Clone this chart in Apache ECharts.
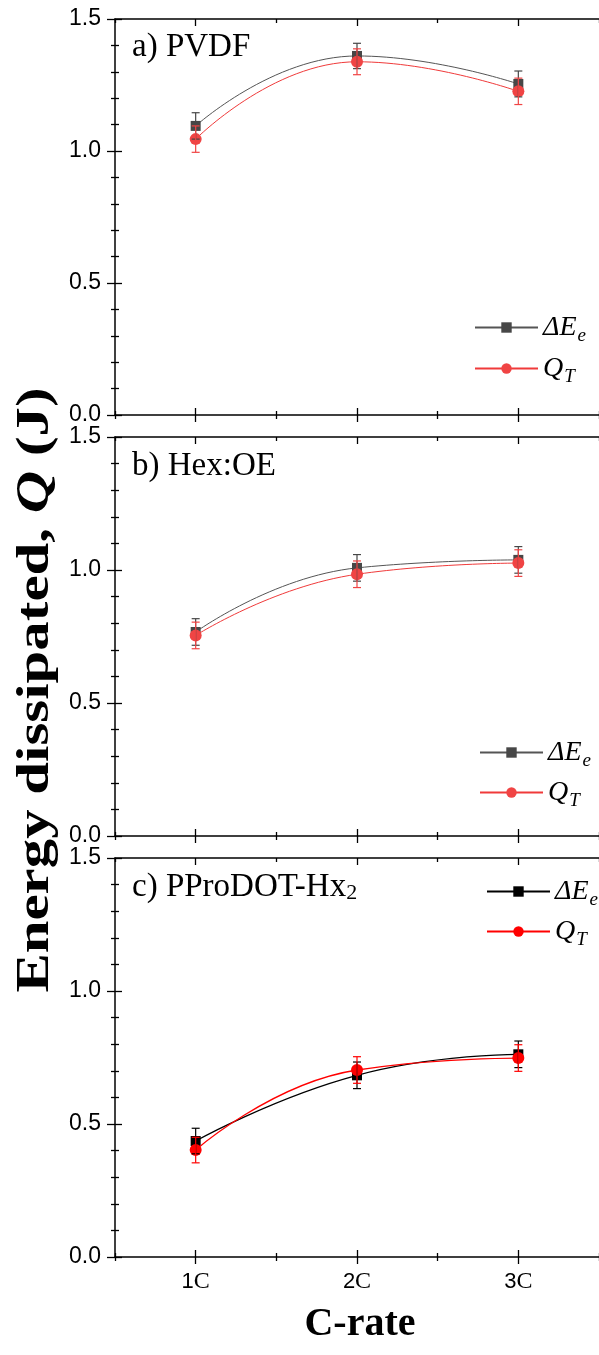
<!DOCTYPE html>
<html><head><meta charset="utf-8">
<script src="https://cdn.jsdelivr.net/npm/echarts@6/dist/echarts.min.js"></script>
<style>html,body{margin:0;padding:0;background:#fff}#c{width:599px;height:1355px}</style>
</head><body><div id="c"></div>
<script>
// ---------- data ----------
const categories = ['1C', '2C', '3C'];
const yTickValues = [0, 0.5, 1.0, 1.5];
const panelTitles = ['a) PVDF', 'b) Hex:OE', 'c) PProDOT-Hx'];

const pvdfDeltaE    = [1.095, 1.360, 1.254];
const pvdfDeltaEErr = [0.050, 0.048, 0.049];
const pvdfQT        = [1.045, 1.338, 1.226];
const pvdfQTErr     = [0.050, 0.049, 0.050];

const hexDeltaE     = [0.767, 1.008, 1.038];
const hexDeltaEErr  = [0.050, 0.050, 0.050];
const hexQT         = [0.754, 0.984, 1.026];
const hexQTErr      = [0.050, 0.050, 0.050];

const pdotDeltaE    = [0.436, 0.683, 0.762];
const pdotDeltaEErr = [0.048, 0.050, 0.050];
const pdotQT        = [0.402, 0.703, 0.748];
const pdotQTErr     = [0.048, 0.050, 0.050];

// ---------- layout / style ----------
const panels = [
  {de: pvdfDeltaE, deErr: pvdfDeltaEErr, qt: pvdfQT, qtErr: pvdfQTErr, top: 19, height: 396,
   deColor: '#474747', deLine: '#555555', qtColor: '#f04444', qtLine: '#f03a3a', lw: 1,
   titleTop: 24, legendTops: [305, 346], legendLeft: 469},
  {de: hexDeltaE, deErr: hexDeltaEErr, qt: hexQT, qtErr: hexQTErr, top: 437, height: 399,
   deColor: '#474747', deLine: '#555555', qtColor: '#f04444', qtLine: '#f03a3a', lw: 1,
   titleTop: 443, legendTops: [730, 770], legendLeft: 474},
  {de: pdotDeltaE, deErr: pdotDeltaEErr, qt: pdotQT, qtErr: pdotQTErr, top: 858, height: 399,
   deColor: '#000000', deLine: '#000000', qtColor: '#ff0000', qtLine: '#ff0000', lw: 1.3,
   titleTop: 864, legendTops: [869, 909], legendLeft: 481}
];

const AX = '#000';
const grids = [], xAxes = [], yAxes = [], series = [], legends = [], titles = [];

function errSeries(name, xi, yi, vals, errs, color) {
  return {
    type: 'custom', name: name, xAxisIndex: xi, yAxisIndex: yi, z: 5, silent: true,
    data: vals.map((v, i) => [i, v, errs[i]]),
    renderItem: function (params, api) {
      const x = api.value(0), v = api.value(1), e = api.value(2);
      const lo = api.coord([x, v - e]), hi = api.coord([x, v + e]);
      const w = 4;
      const st = {stroke: color, lineWidth: 1.2};
      return {type: 'group', children: [
        {type: 'line', shape: {x1: lo[0], y1: lo[1], x2: hi[0], y2: hi[1]}, style: st},
        {type: 'line', shape: {x1: lo[0] - w, y1: lo[1], x2: lo[0] + w, y2: lo[1]}, style: st},
        {type: 'line', shape: {x1: hi[0] - w, y1: hi[1], x2: hi[0] + w, y2: hi[1]}, style: st}
      ]};
    }
  };
}

const legendRich = {
  i: {fontFamily: 'Liberation Serif', fontStyle: 'italic', fontSize: 28, color: '#000', lineHeight: 30},
  s: {fontFamily: 'Liberation Serif', fontStyle: 'italic', fontSize: 19, color: '#000', lineHeight: 30, padding: [16, 0, 0, 1]}
};

panels.forEach((p, k) => {
  grids.push({left: 115, top: p.top, width: 490, height: p.height});
  const xb = k * 6;
  const base = {type: 'category', data: categories, gridIndex: k, boundaryGap: true,
    splitLine: {show: false}, axisLabel: {show: false}};
  const tickStyle = {color: AX, width: 1.3};
  xAxes.push(Object.assign({}, base, {position: 'bottom',
    axisLine: {show: true, onZero: false, lineStyle: {color: AX, width: 1.5}},
    axisTick: {show: true, alignWithLabel: true, length: 7, lineStyle: tickStyle},
    axisLabel: {show: k === 2, margin: 13,
      formatter: v => '{n|' + v.slice(0, -1) + '}{c|' + v.slice(-1) + '}',
      rich: {n: {fontFamily: 'Liberation Sans', fontSize: 22, color: '#000'},
             c: {fontFamily: 'Liberation Serif', fontSize: 24, color: '#000'}}}}));
  xAxes.push(Object.assign({}, base, {position: 'bottom', axisLine: {show: false, onZero: false},
    axisTick: {show: true, inside: true, alignWithLabel: true, length: 7, lineStyle: tickStyle}}));
  xAxes.push(Object.assign({}, base, {position: 'bottom', axisLine: {show: false, onZero: false},
    axisTick: {show: true, alignWithLabel: false, length: 4, lineStyle: tickStyle}}));
  xAxes.push(Object.assign({}, base, {position: 'bottom', axisLine: {show: false, onZero: false},
    axisTick: {show: true, inside: true, alignWithLabel: false, length: 4, lineStyle: tickStyle}}));
  xAxes.push(Object.assign({}, base, {position: 'top',
    axisLine: {show: true, onZero: false, lineStyle: {color: AX, width: 1.5}},
    axisTick: {show: true, inside: true, alignWithLabel: true, length: 7, lineStyle: tickStyle}}));
  xAxes.push(Object.assign({}, base, {position: 'top', axisLine: {show: false, onZero: false},
    axisTick: {show: true, inside: true, alignWithLabel: false, length: 4, lineStyle: tickStyle}}));

  const yb = k * 2;
  const ybase = {type: 'value', gridIndex: k, position: 'left',
    min: yTickValues[0], max: yTickValues[yTickValues.length - 1], interval: 0.5,
    splitLine: {show: false}, minorSplitLine: {show: false}};
  yAxes.push(Object.assign({}, ybase, {
    axisLine: {show: true, onZero: false, lineStyle: {color: AX, width: 1.5}},
    axisTick: {show: true, length: 8, lineStyle: tickStyle},
    minorTick: {show: true, splitNumber: 5, length: 4, lineStyle: tickStyle},
    axisLabel: {show: true, margin: 14, fontFamily: 'Liberation Sans', fontSize: 23, color: '#000',
      formatter: v => v.toFixed(1)}}));
  yAxes.push(Object.assign({}, ybase, {
    axisLine: {show: false},
    axisTick: {show: true, inside: true, length: 7, lineStyle: tickStyle},
    minorTick: {show: true, splitNumber: 5, length: 4, lineStyle: tickStyle},
    axisLabel: {show: false}}));

  const deName = 'de' + k, qtName = 'qt' + k;
  series.push({type: 'line', name: deName, xAxisIndex: xb, yAxisIndex: yb, data: p.de,
    smooth: true, symbol: 'rect', symbolSize: 10, z: 3,
    lineStyle: {color: p.deLine, width: p.lw}, itemStyle: {color: p.deColor}});
  series.push({type: 'line', name: qtName, xAxisIndex: xb, yAxisIndex: yb, data: p.qt,
    smooth: true, symbol: 'circle', symbolSize: 12, z: 4,
    lineStyle: {color: p.qtLine, width: p.lw}, itemStyle: {color: p.qtColor}});
  series.push(errSeries('dee' + k, xb, yb, p.de, p.deErr, p.deColor));
  series.push(errSeries('qte' + k, xb, yb, p.qt, p.qtErr, p.qtColor));

  [deName, qtName].forEach((nm, j) => {
    legends.push({orient: 'vertical', left: p.legendLeft, top: p.legendTops[j], itemWidth: 63, itemHeight: 13,
      selectedMode: false, data: [nm],
      formatter: n => n.startsWith('de') ? '{i|ΔE}{s|e}' : '{i|Q}{s|T}',
      textStyle: {rich: legendRich}});
  });

  const t = panelTitles[k];
  titles.push({left: 127, top: p.titleTop, text: k === 2 ? '{t|' + t + '}{s|2}' : '{t|' + t + '}',
    textStyle: {fontWeight: 'normal', rich: {
      t: {fontFamily: 'Liberation Serif', fontWeight: 'normal', fontSize: 33, color: '#000', lineHeight: 36},
      s: {fontFamily: 'Liberation Serif', fontWeight: 'normal', fontSize: 22, color: '#000', lineHeight: 36, padding: [12, 0, 0, 0]}}}});
});

const chart = echarts.init(document.getElementById('c'), null, {renderer: 'canvas'});
chart.setOption({
  animation: false, backgroundColor: '#fff',
  title: titles, legend: legends, grid: grids, xAxis: xAxes, yAxis: yAxes, series: series,
  graphic: [
    {type: 'text', x: 36, y: 690, rotation: Math.PI / 2, scaleX: 1.28,
     style: {text: '{b|Energy dissipated, }{q|Q}{b| (J)}', align: 'center', verticalAlign: 'middle',
       rich: {b: {fontFamily: 'Liberation Serif', fontWeight: 'bold', fontSize: 46, fill: '#000'},
              q: {fontFamily: 'Liberation Serif', fontWeight: 'bold', fontStyle: 'italic', fontSize: 46, fill: '#000'}}}},
    {type: 'text', x: 360, y: 1325,
     style: {text: 'C-rate', align: 'center', verticalAlign: 'middle',
       fontFamily: 'Liberation Serif', fontWeight: 'bold', fontSize: 40, fill: '#000'}}
  ]
});
</script></body></html>
